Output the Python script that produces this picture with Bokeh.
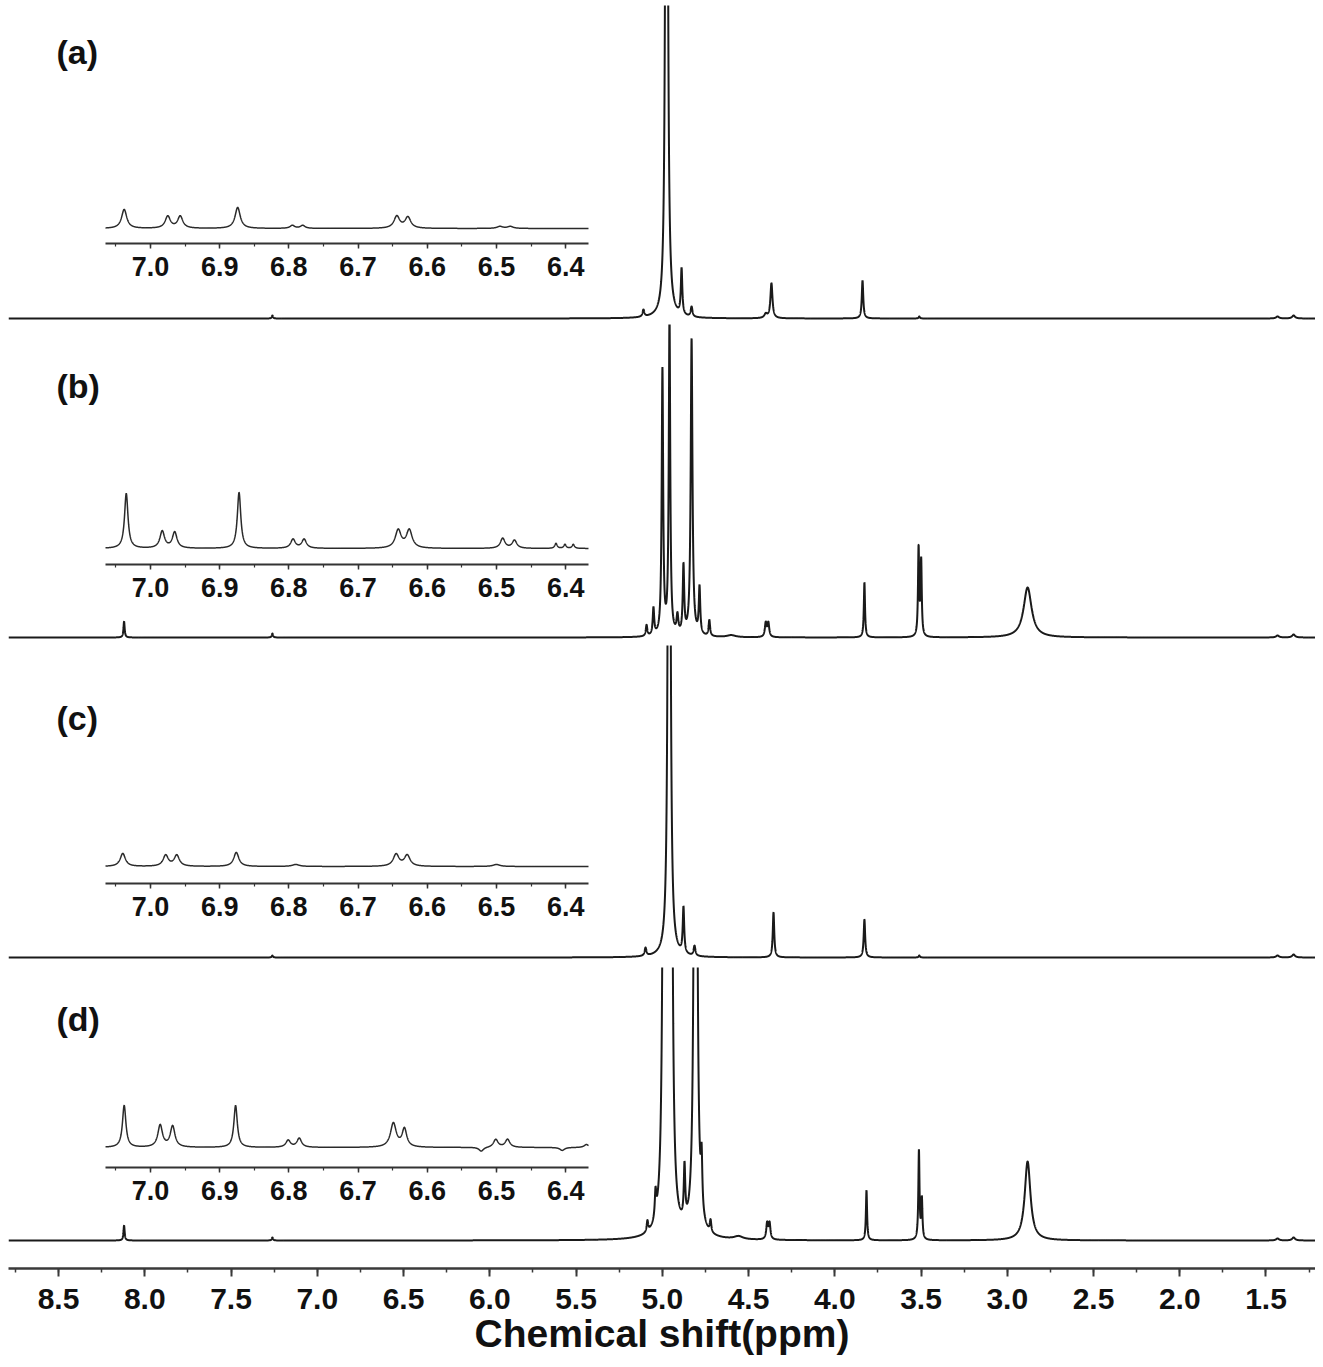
import numpy as np
from bokeh.plotting import figure
from bokeh.models import (Range1d, LinearAxis, SingleIntervalTicker,
                          PrintfTickFormatter, Label, ColumnDataSource)
from bokeh.layouts import column
from bokeh.embed import file_html
from bokeh.resources import INLINE

# ---------------- data ----------------
panel_labels = ["(a)", "(b)", "(c)", "(d)"]

# main spectra: peak position (ppm), height (a.u.), half width (ppm)
a_shift  = [7.26, 5.109, 4.975, 4.888, 4.830, 4.400, 4.367, 3.839, 3.51, 1.433, 1.34]
a_height = [3, 7, 1500, 46, 10, 4, 35, 38, 2, 2, 3]
a_hw     = [0.004, 0.006, 0.005, 0.005, 0.006, 0.010, 0.007, 0.005, 0.004, 0.010, 0.010]

b_shift  = [8.12, 7.26, 5.091, 5.051, 4.999, 4.958, 4.912, 4.877, 4.830, 4.784, 4.727,
            4.60, 4.400, 4.385, 3.828, 3.514, 3.499, 2.882, 1.433, 1.34]
b_height = [16, 4, 11, 27, 265, 318, 18, 68, 297, 47, 16,
            2, 14, 14, 55, 88, 75, 50, 2, 3]
b_hw     = [0.004, 0.004, 0.005, 0.005, 0.005, 0.005, 0.006, 0.005, 0.006, 0.005, 0.005,
            0.030, 0.006, 0.006, 0.004, 0.004, 0.004, 0.028, 0.010, 0.010]

c_shift  = [7.26, 5.097, 4.960, 4.877, 4.813, 4.355, 3.828, 3.51, 1.433, 1.34]
c_height = [2, 8, 1500, 46, 10, 45, 38, 2, 2, 3]
c_hw     = [0.004, 0.006, 0.005, 0.005, 0.006, 0.005, 0.005, 0.004, 0.010, 0.010]

d_shift  = [8.12, 7.26, 5.086, 5.039, 4.987, 4.952, 4.871, 4.807, 4.772, 4.720,
            4.558, 4.392, 4.378, 3.816, 3.512, 3.495, 2.882, 1.433, 1.34]
d_height = [15, 3, 11, 26, 1500, 1500, 54, 1500, 52, 12,
            3, 16, 16, 50, 89, 40, 79, 2, 3]
d_hw     = [0.004, 0.004, 0.005, 0.005, 0.006, 0.006, 0.005, 0.006, 0.005, 0.005,
            0.030, 0.006, 0.006, 0.004, 0.004, 0.004, 0.020, 0.010, 0.010]

# insets (7.06 - 6.37 ppm region)
ia_shift  = [7.038, 6.975, 6.957, 6.874, 6.795, 6.780, 6.644, 6.628, 6.495, 6.480]
ia_height = [19, 12, 12, 21, 3, 3, 12, 11, 2, 2]
ia_hw     = [0.0045, 0.0045, 0.0045, 0.0045, 0.004, 0.004, 0.005, 0.005, 0.005, 0.005]

ib_shift  = [7.035, 6.983, 6.965, 6.872, 6.794, 6.778, 6.642, 6.626, 6.491, 6.474,
             6.414, 6.401, 6.389]
ib_height = [55, 17, 16, 56, 9, 9, 18, 18, 10, 8, 5, 4, 4]
ib_hw     = [0.003, 0.004, 0.004, 0.003, 0.004, 0.004, 0.005, 0.005, 0.004, 0.004,
             0.002, 0.002, 0.002]

ic_shift  = [7.040, 6.978, 6.962, 6.876, 6.790, 6.645, 6.629, 6.500]
ic_height = [13, 11, 11, 14, 2, 12, 11, 2]
ic_hw     = [0.0045, 0.0045, 0.0045, 0.0045, 0.006, 0.005, 0.005, 0.006]

id_shift  = [7.038, 6.986, 6.968, 6.877, 6.801, 6.785, 6.649, 6.633, 6.522, 6.501, 6.484,
             6.405, 6.370]
id_height = [42, 22, 21, 42, 7, 9, 24, 18, -4, 8, 8, -3, 3]
id_hw     = [0.003, 0.004, 0.004, 0.003, 0.004, 0.004, 0.005, 0.004, 0.004, 0.004, 0.004,
             0.004, 0.004]

main_ticks_interval = 0.5
inset_ticks_interval = 0.1

main_peaks = [(a_shift, a_height, a_hw), (b_shift, b_height, b_hw),
              (c_shift, c_height, c_hw), (d_shift, d_height, d_hw)]
inset_peaks = [(ia_shift, ia_height, ia_hw), (ib_shift, ib_height, ib_hw),
               (ic_shift, ic_height, ic_hw), (id_shift, id_height, id_hw)]

# ---------------- layout constants ----------------
W = 1307
LEFT_PAD = 8
TOP_PAD = 5
X_LEFT, X_RIGHT = 8.79, 1.213
INS_LEFT, INS_RIGHT = 7.065, 6.367
INS_PX0, INS_PX1 = 97, 580
frame_h = [319, 321, 322, 301]
base_pad = [6, 8, 10, 28]
inset_axis_px = [75, 73, 74, 73]
inset_base_px = [15, 16, 17, 20]
label_px = [267, 252, 240, 222]

FONT = "Liberation Sans"
INK = "#1a1a1a"


def spectrum(grid, shifts, heights, hws):
    y = np.zeros_like(grid)
    for s, h, w in zip(shifts, heights, hws):
        y += h / (1.0 + ((grid - s) / w) ** 2)
    return y


k = (INS_LEFT - INS_RIGHT) / (INS_PX1 - INS_PX0)
ix_start = INS_LEFT + INS_PX0 * k
ix_end = INS_RIGHT - (W - INS_PX1) * k

main_grid = np.linspace(X_LEFT, X_RIGHT, 16000)
ins_grid = np.linspace(INS_LEFT, INS_RIGHT, 2400)

figs = []
for i in range(4):
    h = frame_h[i]
    pad = base_pad[i]
    yb = inset_axis_px[i] + inset_base_px[i]
    p = figure(frame_width=W, frame_height=h,
               x_range=Range1d(X_LEFT, X_RIGHT), y_range=Range1d(-pad, h - pad),
               output_backend="svg", toolbar_location=None,
               x_axis_location=None, y_axis_location=None,
               min_border=0, min_border_left=LEFT_PAD, min_border_right=0,
               min_border_top=TOP_PAD if i == 0 else 0, min_border_bottom=0,
               outline_line_color=None, background_fill_color="white",
               border_fill_color="white")
    p.xgrid.visible = False
    p.ygrid.visible = False
    p.extra_x_ranges = {"ix": Range1d(ix_start, ix_end)}
    p.extra_y_ranges = {"iy": Range1d(-pad - yb, h - pad - yb)}

    sh, ht, hw = main_peaks[i]
    src = ColumnDataSource(dict(x=main_grid, y=spectrum(main_grid, sh, ht, hw)))
    p.line("x", "y", source=src, line_color=INK, line_width=2)

    ish, iht, ihw = inset_peaks[i]
    isrc = ColumnDataSource(dict(x=ins_grid, y=spectrum(ins_grid, ish, iht, ihw)))
    p.line("x", "y", source=isrc, line_color="#2a2a2a", line_width=1.5,
           x_range_name="ix", y_range_name="iy")

    iax = LinearAxis(x_range_name="ix", y_range_name="iy",
                     fixed_location=-inset_base_px[i],
                     bounds=(INS_RIGHT, INS_LEFT),
                     ticker=SingleIntervalTicker(interval=inset_ticks_interval, num_minor_ticks=2),
                     formatter=PrintfTickFormatter(format="%.1f"),
                     axis_line_width=2, axis_line_color="#333333",
                     major_tick_in=0, major_tick_out=5, minor_tick_in=0, minor_tick_out=3,
                     major_tick_line_width=1.5, minor_tick_line_width=1.2,
                     major_tick_line_color="#333333", minor_tick_line_color="#333333",
                     major_label_standoff=8,
                     major_label_text_font=FONT,
                     major_label_text_font_style="bold",
                     major_label_text_font_size="27px",
                     major_label_text_color="#111111")
    p.add_layout(iax, "below")

    p.add_layout(Label(x=8.512, y=label_px[i], text=panel_labels[i],
                       text_font=FONT, text_font_style="bold", text_font_size="34px",
                       text_baseline="middle", text_align="left", text_color="#111111"))

    if i == 3:
        ax = LinearAxis(ticker=SingleIntervalTicker(interval=main_ticks_interval, num_minor_ticks=2),
                        formatter=PrintfTickFormatter(format="%.1f"),
                        axis_line_width=2.5, axis_line_color="#3a3a3a",
                        major_tick_in=0, major_tick_out=8, minor_tick_in=0, minor_tick_out=4,
                        major_tick_line_width=2, minor_tick_line_width=1.5,
                        major_tick_line_color="#3a3a3a", minor_tick_line_color="#3a3a3a",
                        major_label_standoff=12,
                        major_label_text_font=FONT, major_label_text_font_style="bold",
                        major_label_text_font_size="30px", major_label_text_color="#111111",
                        axis_label="Chemical shift(ppm)",
                        axis_label_text_font=FONT, axis_label_text_font_style="bold",
                        axis_label_text_font_size="39px", axis_label_text_color="#111111",
                        axis_label_standoff=0)
        p.add_layout(ax, "below")
    figs.append(p)

layout = column(*figs, spacing=0)
open("out.html", "w").write(file_html(layout, INLINE))
